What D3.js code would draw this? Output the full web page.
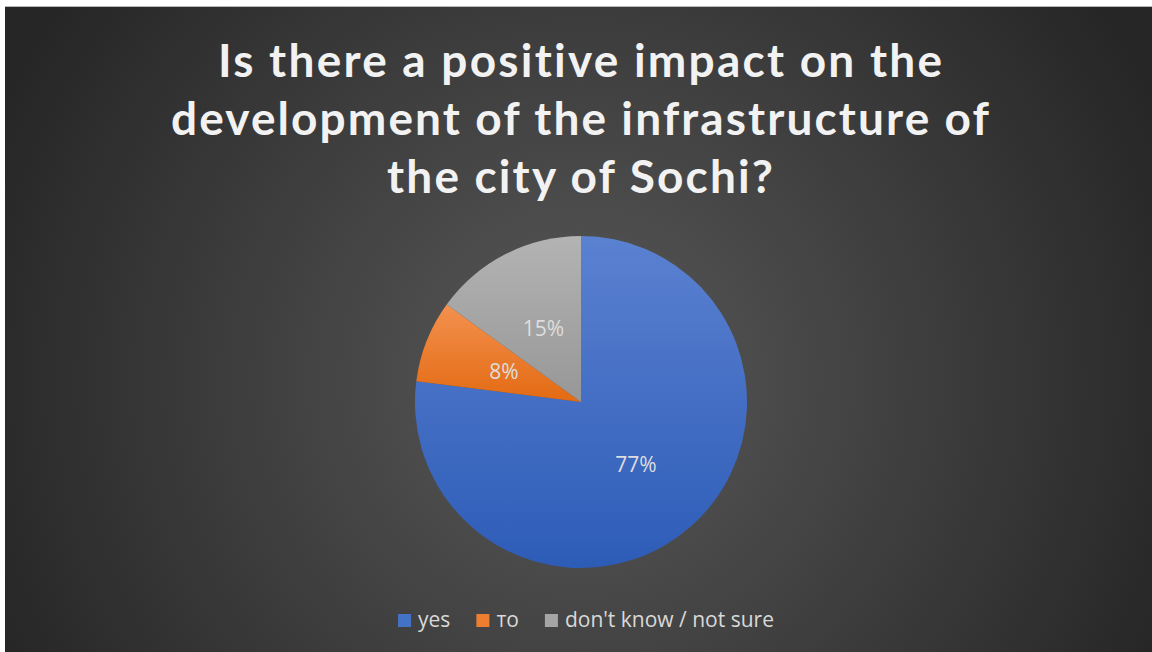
<!DOCTYPE html>
<html><head><meta charset="utf-8">
<script src="https://cdn.jsdelivr.net/npm/d3@7"></script>
<style>html,body{margin:0;padding:0;background:#fff;}svg{display:block;}text{font-variant-ligatures:none;font-feature-settings:"liga" 0,"clig" 0;}</style>
</head><body>
<svg id="c" width="1152" height="652"></svg>
<script>
const categories = ["yes", "то", "don't know / not sure"];
const values = [77, 8, 15];
const labels = ["77%", "8%", "15%"];
const titleLines = ["Is there a positive impact on the", "development of the infrastructure of", "the city of Sochi?"];
const colorsTop = ["#5b81d1", "#f3914f", "#b3b3b3"];
const colorsBottom = ["#2d5cb7", "#e36a12", "#979797"];
const legendColors = ["#4472c4", "#ed7d31", "#a5a5a5"];

const svg = d3.select("#c");
const W = 1152, H = 652;
const defs = svg.append("defs");
const bg = defs.append("radialGradient").attr("id","bg")
  .attr("gradientUnits","userSpaceOnUse").attr("cx",580).attr("cy",380).attr("r",640);
bg.append("stop").attr("offset","0%").attr("stop-color","#595959");
bg.append("stop").attr("offset","100%").attr("stop-color","#262626");

svg.append("rect").attr("x",5).attr("y",6).attr("width",W-5).attr("height",1).attr("fill","#b8b8b8");
svg.append("rect").attr("x",5).attr("y",7).attr("width",W-5).attr("height",H-7).attr("fill","url(#bg)");

categories.forEach((c,i)=>{
  const g = defs.append("linearGradient").attr("id","g"+i).attr("x1",0).attr("y1",0).attr("x2",0).attr("y2",1);
  g.append("stop").attr("offset","0%").attr("stop-color",colorsTop[i]);
  g.append("stop").attr("offset","100%").attr("stop-color",colorsBottom[i]);
});

// Title
const targetW = [724, 818, 386];
const title = svg.append("g");
titleLines.forEach((t,i)=>{
  title.append("text").attr("x",580).attr("y",77 + i*58)
    .attr("text-anchor","middle")
    .attr("font-family","Lato, 'Open Sans', sans-serif").attr("font-weight","bold")
    .attr("font-size",46).attr("fill","#f2f2f2")
    .attr("textLength",targetW[i]).attr("lengthAdjust","spacing")
    .text(t);
});

// Pie
const cx = 581, cy = 402, r = 166;
const pie = d3.pie().sort(null).value(d=>d)(values);
const arc = d3.arc().innerRadius(0).outerRadius(r);
const pg = svg.append("g").attr("transform",`translate(${cx},${cy})`);
pg.selectAll("path").data(pie).join("path")
  .attr("d",arc).attr("fill",(d,i)=>`url(#g${i})`);
pg.selectAll("text").data(pie).join("text")
  .attr("transform",d=>`translate(${arc.centroid(d)})`)
  .attr("text-anchor","middle").attr("dy","0.36em")
  .attr("font-family","'Open Sans', sans-serif").attr("font-size",21)
  .attr("fill","#dedede")
  .text((d,i)=>labels[i]);

// Legend
const lg = svg.append("g");
const items = lg.selectAll("g").data(categories).join("g");
items.append("rect").attr("width",13).attr("height",13).attr("y",614).attr("fill",(d,i)=>legendColors[i]);
items.append("text").attr("x",20).attr("y",627)
  .attr("font-family","'Open Sans', sans-serif").attr("font-size",21).attr("fill","#d9d9d9")
  .text(d=>d);
let widths = [];
items.each(function(){ widths.push(d3.select(this).select("text").node().getComputedTextLength()); });
const gap = 26;
const total = widths.reduce((a,w)=>a+20+w,0) + gap*(widths.length-1);
let x = 586 - total/2;
items.each(function(d,i){ d3.select(this).attr("transform",`translate(${x},0)`); x += 20 + widths[i] + gap; });
</script>
</body></html>
